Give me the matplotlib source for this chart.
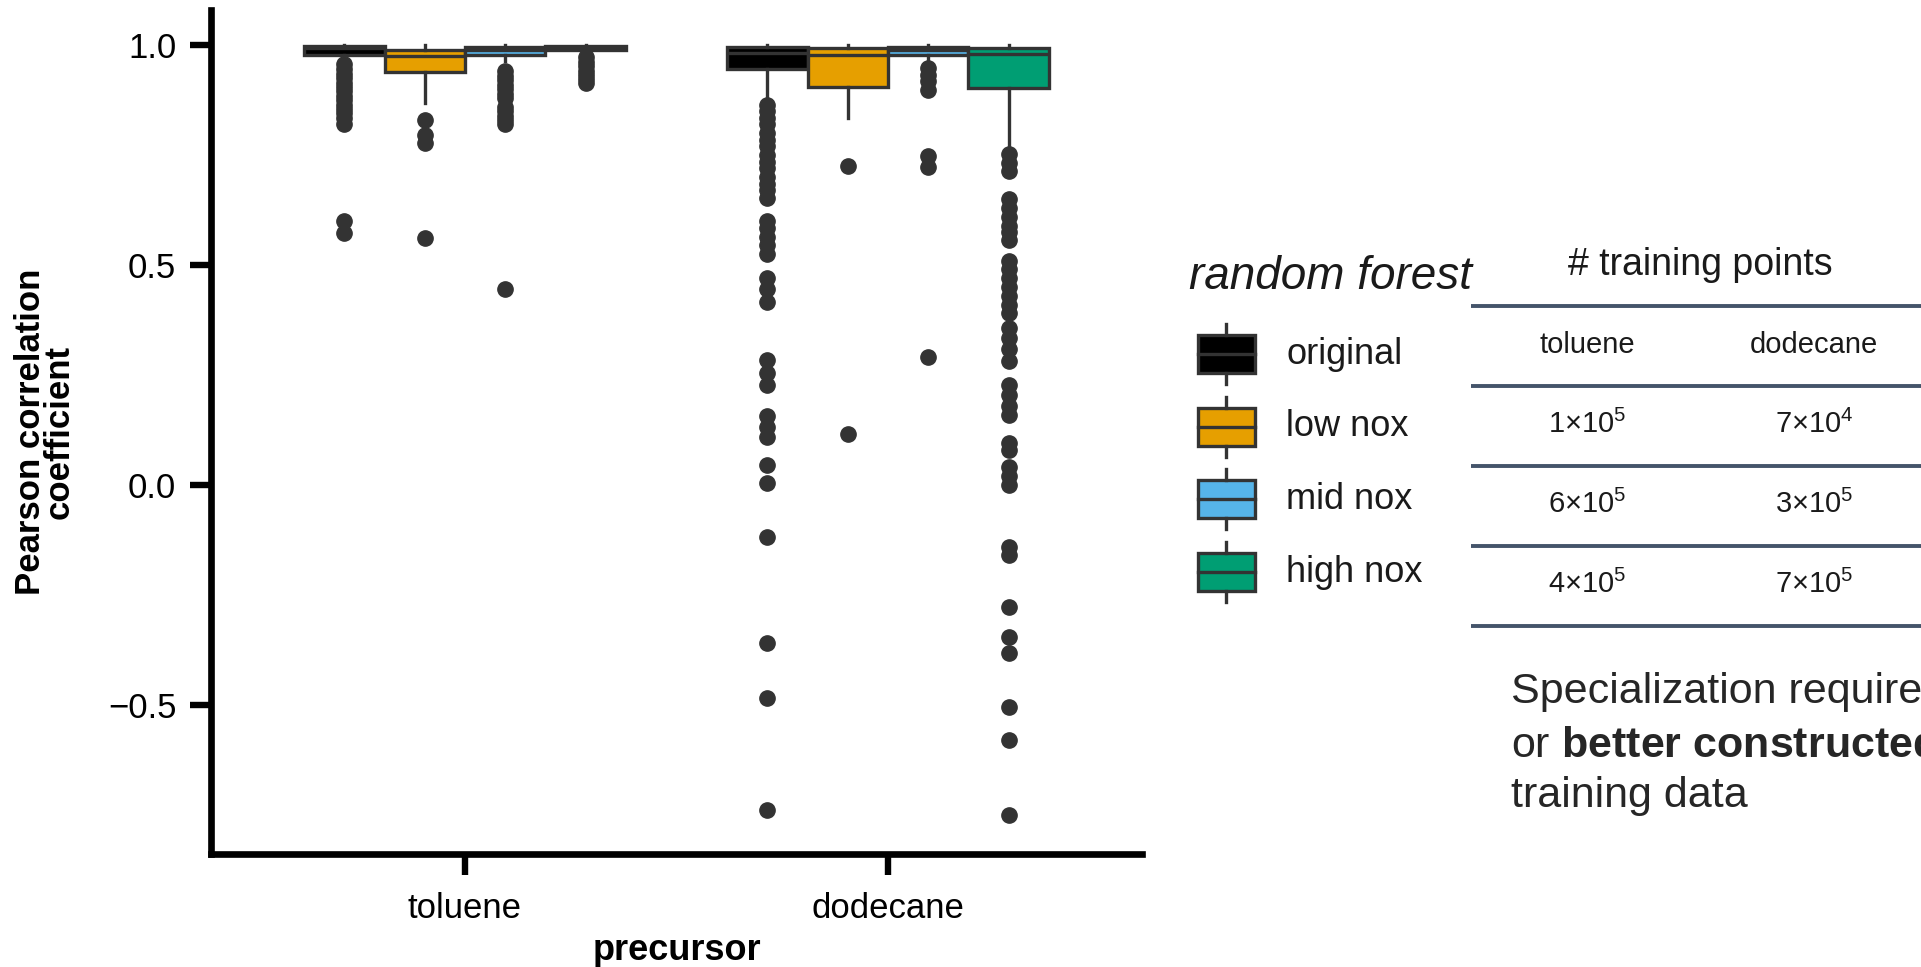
import matplotlib
matplotlib.use("Agg")
import matplotlib.pyplot as plt
from matplotlib.patches import Rectangle

plt.rcParams["font.family"] = ["Liberation Sans", "DejaVu Sans"]
plt.rcParams["mathtext.fontset"] = "custom"
plt.rcParams["mathtext.rm"] = "Liberation Sans"
plt.rcParams["mathtext.bf"] = "Liberation Sans:bold"
plt.rcParams["mathtext.it"] = "Liberation Sans:italic"
plt.rcParams["axes.unicode_minus"] = True

# ---------------------------------------------------------------- data
precursors = ["toluene", "dodecane"]
models = ["original", "low nox", "mid nox", "high nox"]
model_colors = ["#000000", "#E69F00", "#56B4E9", "#009E73"]

# box statistics per precursor, ordered as `models`
tol_q1 = [0.978, 0.940, 0.977, 0.990]
tol_med = [0.993, 0.975, 0.990, 0.997]
tol_q3 = [0.998, 0.990, 0.997, 0.999]
tol_whislo = [0.968, 0.869, 0.963, 0.982]
tol_whishi = [1.000, 1.000, 1.000, 1.000]
tol_fliers = [
    [0.957, 0.945, 0.935, 0.925, 0.915, 0.905, 0.895, 0.885, 0.875,
     0.865, 0.855, 0.845, 0.835, 0.82, 0.60, 0.574],
    [0.83, 0.796, 0.778, 0.562],
    [0.941, 0.93, 0.92, 0.91, 0.90, 0.89, 0.88, 0.86, 0.85, 0.84,
     0.83, 0.82, 0.445],
    [0.972, 0.962, 0.952, 0.942, 0.932, 0.922, 0.914],
]

dod_q1 = [0.945, 0.905, 0.977, 0.903]
dod_med = [0.982, 0.977, 0.990, 0.980]
dod_q3 = [0.995, 0.993, 0.997, 0.994]
dod_whislo = [0.883, 0.835, 0.963, 0.771]
dod_whishi = [1.000, 1.000, 1.000, 1.000]
dod_fliers = [
    [0.865, 0.85, 0.835, 0.82, 0.80, 0.785, 0.77, 0.75, 0.735, 0.72,
     0.70, 0.685, 0.67, 0.653, 0.60, 0.585, 0.565, 0.545, 0.525,
     0.47, 0.445, 0.416, 0.285, 0.255, 0.228, 0.157, 0.133, 0.109,
     0.045, 0.005, -0.118, -0.36, -0.485, -0.74],
    [0.726, 0.115],
    [0.948, 0.933, 0.918, 0.898, 0.749, 0.722, 0.29],
    [0.753, 0.733, 0.714, 0.651, 0.63, 0.61, 0.59, 0.575, 0.558,
     0.51, 0.49, 0.47, 0.45, 0.43, 0.41, 0.39, 0.356, 0.335, 0.31,
     0.283, 0.227, 0.205, 0.18, 0.159, 0.095, 0.079, 0.04, 0.02,
     0.0, -0.14, -0.16, -0.277, -0.345, -0.383, -0.505, -0.58, -0.75],
]

y_ticks = [-0.5, 0.0, 0.5, 1.0]

# training-set sizes (mantissa, exponent) per row: toluene, dodecane
table_columns = ["toluene", "dodecane"]
table_mantissa = [[1, 7], [6, 3], [4, 7]]
table_exponent = [[5, 4], [5, 5], [5, 5]]

# ---------------------------------------------------------------- figure
W, H = 1921, 967
fig = plt.figure(figsize=(W / 100, H / 100), dpi=100)
ax = fig.add_axes([211 / W, (H - 854) / H, (1142 - 211) / W, (854 - 10) / H])

EDGE = "#333333"
TEXT = "#1a1a1a"
box_w = 0.19

stats, positions, faces = [], [], []
for i, (q1s, meds, q3s, los, his, fls) in enumerate([
        (tol_q1, tol_med, tol_q3, tol_whislo, tol_whishi, tol_fliers),
        (dod_q1, dod_med, dod_q3, dod_whislo, dod_whishi, dod_fliers)]):
    for j in range(len(models)):
        stats.append(dict(q1=q1s[j], med=meds[j], q3=q3s[j],
                          whislo=los[j], whishi=his[j], fliers=fls[j]))
        positions.append(i + (j - 1.5) * box_w)
        faces.append(model_colors[j])

art = ax.bxp(stats, positions=positions, widths=box_w, patch_artist=True,
             showcaps=False,
             boxprops=dict(edgecolor=EDGE, linewidth=2.4),
             whiskerprops=dict(color=EDGE, linewidth=2.4),
             medianprops=dict(color=EDGE, linewidth=2.4),
             flierprops=dict(marker="o", markersize=11,
                             markerfacecolor=EDGE, markeredgecolor=EDGE))
for patch, fc in zip(art["boxes"], faces):
    patch.set_facecolor(fc)

ax.set_xlim(-0.6, 1.6)
ax.set_ylim(-0.839, 1.08)
ax.set_xticks(range(len(precursors)))
ax.set_xticklabels(precursors)
ax.set_yticks(y_ticks)
ax.set_yticklabels([f"{v:.1f}".replace("-", "\u2212") for v in y_ticks])
for s in ["top", "right"]:
    ax.spines[s].set_visible(False)
for s in ["left", "bottom"]:
    ax.spines[s].set_linewidth(4.8)
    ax.spines[s].set_color("black")
    ax.spines[s].set_capstyle("projecting")
ax.tick_params(axis="both", length=15, width=4.6, color="black",
               labelsize=25, labelcolor="black")
ax.tick_params(axis="x", pad=12)
ax.tick_params(axis="y", pad=10)
ax.set_xlabel("precursor", fontsize=26, fontweight="bold", color="black",
              labelpad=6)

fig.text(45 / W, 1 - 432 / H, "Pearson correlation\ncoefficient",
         rotation=90, ha="center", va="center", multialignment="center",
         linespacing=0.82, fontsize=25, fontweight="bold", color="black")

# ---------------------------------------------------------------- overlay
ov = fig.add_axes([0, 0, 1, 1])
ov.set_xlim(0, W)
ov.set_ylim(H, 0)
ov.axis("off")

# legend
ov.text(1189, 289, "random forest", fontsize=33, fontstyle="italic",
        color=TEXT, ha="left", va="baseline")
leg_x, leg_y0, leg_dy = 1226, 354, 72.5
for k, (name, col) in enumerate(zip(models, model_colors)):
    yc = leg_y0 + k * leg_dy
    ov.add_patch(Rectangle((leg_x - 28.5, yc - 19), 57, 38, facecolor=col,
                           edgecolor=EDGE, linewidth=2.4))
    ov.plot([leg_x - 28.5, leg_x + 28.5], [yc, yc], color=EDGE, lw=2.4)
    ov.plot([leg_x, leg_x], [yc - 30, yc - 19], color=EDGE, lw=2.4)
    ov.plot([leg_x, leg_x], [yc + 19, yc + 30], color=EDGE, lw=2.4)
    ov.text(1286, yc + 10, name, fontsize=26, color=TEXT,
            ha="left", va="baseline")

# table of training-set sizes
ov.text(1700, 275, "# training points", fontsize=27, color=TEXT,
        ha="center", va="baseline")
rule_y = [306, 386, 466, 546, 626]
for y in rule_y:
    ov.plot([1471, W], [y, y], color="#44546A", lw=2.8,
            solid_capstyle="butt")
col_x = [1587, 1814]
for cx, name in zip(col_x, table_columns):
    ov.text(cx, 353, name, fontsize=21, color=TEXT, ha="center",
            va="baseline")
for r in range(len(table_mantissa)):
    for c, cx in enumerate(col_x):
        m, e = table_mantissa[r][c], table_exponent[r][c]
        ov.text(cx, 433 + r * 80, f"{m}\u00d710$^{{{e}}}$", fontsize=21,
                color=TEXT, ha="center", va="baseline")

# note
NOTE = "#262626"
ov.text(1511, 703, "Specialization requires more", fontsize=31,
        color=NOTE, ha="left", va="baseline")
ov.text(1511, 757, r"or $\mathbf{better\ constructed}$", fontsize=31,
        color=NOTE, ha="left", va="baseline")
ov.text(1511, 807, "training data", fontsize=31, color=NOTE,
        ha="left", va="baseline")

fig.savefig("out.png", dpi=100)
